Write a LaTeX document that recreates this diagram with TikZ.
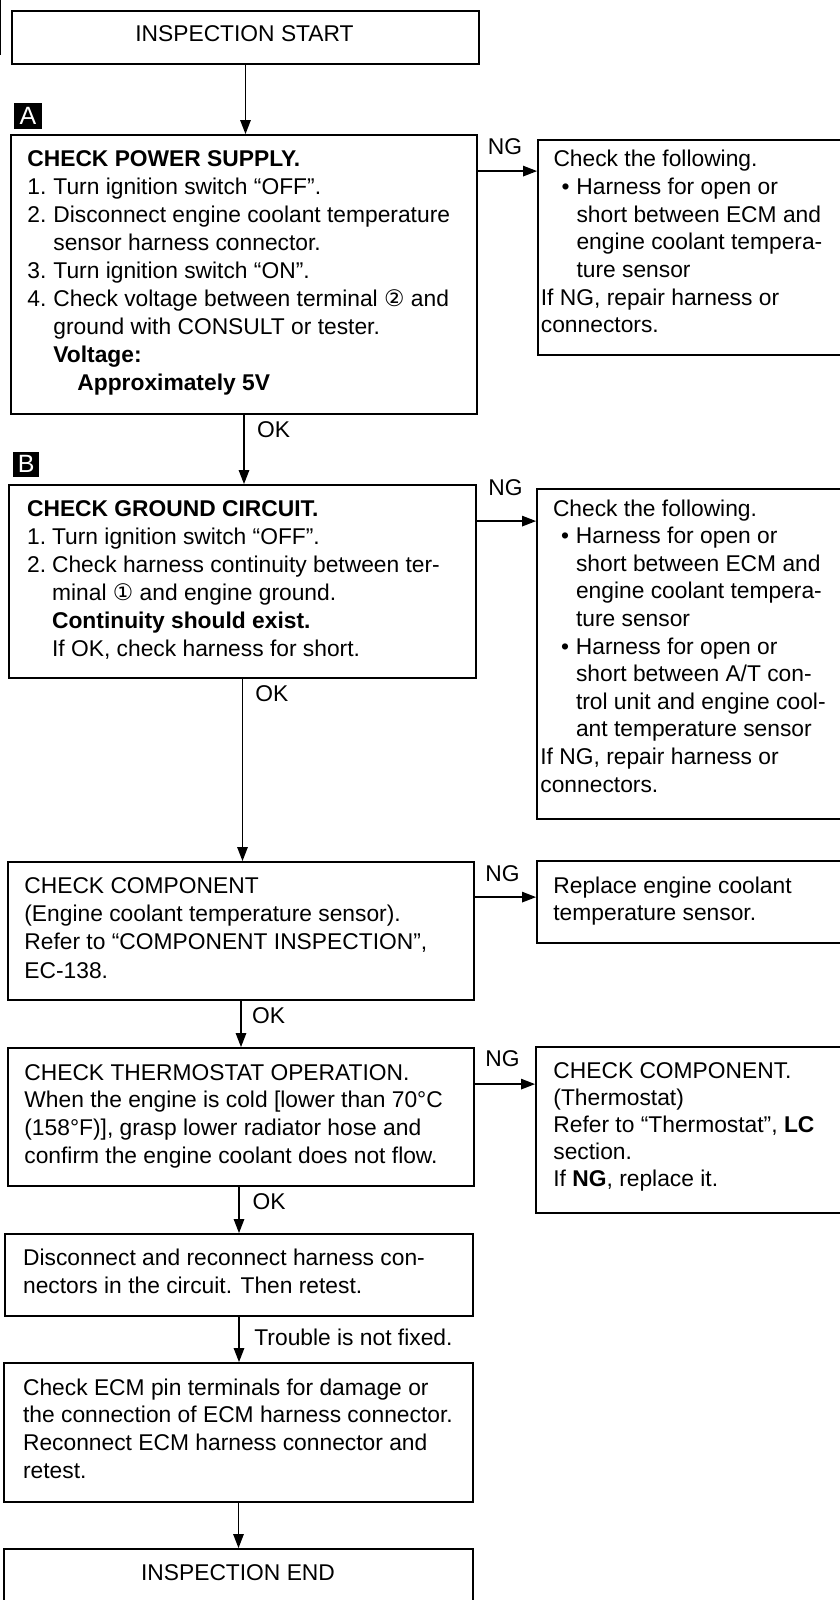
\documentclass[tikz,border=0pt]{standalone}
\usepackage{fontspec}
\setmainfont{Liberation Sans}
\newfontfamily\symfont{DejaVu Sans}
\usetikzlibrary{arrows.meta,calc,fit}

\begin{document}
\begin{tikzpicture}[x=0.5pt,y=-0.5pt,
  box/.style={draw, line width=0.9pt, inner sep=0pt},
  % multi-line texts are placed by the baseline of their last line
  txt/.style={anchor=base west, align=left, inner sep=0pt,
    font=\fontsize{11.4}{#1}\selectfont},
  txt/.default=14,
  ctxt/.style={anchor=base, inner sep=0pt, font=\fontsize{11.4}{14}\selectfont},
  lbl/.style={anchor=base west, inner sep=0pt, font=\fontsize{11.4}{14}\selectfont},
  tag/.style={fill=black, text=white, inner sep=0pt,
    font=\fontsize{12.5}{12.5}\selectfont},
  conn/.style={line width=0.75pt, -{Triangle[length=7pt,width=5.2pt]}}
]
\useasboundingbox (0,0) rectangle (840,1600);
\draw[line width=0.4pt] (0.8,0) -- (0.8,55);

% main column
\node[box, fit={(12,11) (479,64)}] (start) {};
\node[box, fit={(11,135) (477,414)}] (A) {};
\node[box, fit={(9,485) (476,678)}] (B) {};
\node[box, fit={(8,862) (474,1000)}] (C) {};
\node[box, fit={(8,1048) (474,1186)}] (D) {};
\node[box, fit={(5,1234) (473,1316)}] (E) {};
\node[box, fit={(4,1363) (473,1502)}] (F) {};
\node[box, fit={(4,1549) (473,1612)}] (stop) {};

% right column
\node[box, fit={(538,140) (846,355)}] (RA) {};
\node[box, fit={(537,489) (846,819)}] (RB) {};
\node[box, fit={(537,861) (846,943)}] (RC) {};
\node[box, fit={(536,1047) (846,1213)}] (RD) {};

% step tags
\node[tag, minimum width=14pt, minimum height=13.3pt] (tagA) at (28,116) {A};
\node[tag, minimum width=13pt, minimum height=12.5pt] (tagB) at (26.3,464.2) {B};

% texts
\node[ctxt] (startT) at (244.5,41.7) {INSPECTION START};

\node[txt] (AT) at (27,390.7) {\textbf{CHECK POWER SUPPLY.}\\
\makebox[13pt][l]{1.}Turn ignition switch “OFF”.\\
\makebox[13pt][l]{2.}Disconnect engine coolant temperature\\
\hspace*{13pt}sensor harness connector.\\
\makebox[13pt][l]{3.}Turn ignition switch “ON”.\\
\makebox[13pt][l]{4.}Check voltage between terminal {\symfont ②} and\\
\hspace*{13pt}ground with CONSULT or tester.\\
\hspace*{13pt}\textbf{Voltage:}\\
\hspace*{25pt}\textbf{Approximately 5V}};

\node[txt=13.85] (RAT) at (540.5,332.9) {\hspace*{6.3pt}Check the following.\\
\hspace*{10.3pt}\makebox[7.5pt][l]{•}Harness for open or\\
\hspace*{17.8pt}short between ECM and\\
\hspace*{17.8pt}engine coolant tempera-\\
\hspace*{17.8pt}ture sensor\\
If NG, repair harness or\\
connectors.};

\node[txt] (BT) at (26.7,656) {\textbf{CHECK GROUND CIRCUIT.}\\
\makebox[12.5pt][l]{1.}Turn ignition switch “OFF”.\\
\makebox[12.5pt][l]{2.}Check harness continuity between ter-\\
\hspace*{12.5pt}minal {\symfont ①} and engine ground.\\
\hspace*{12.5pt}\textbf{Continuity should exist.}\\
\hspace*{12.5pt}If OK, check harness for short.};

\node[txt=13.8] (RBT) at (540,792) {\hspace*{6.3pt}Check the following.\\
\hspace*{10.3pt}\makebox[7.5pt][l]{•}Harness for open or\\
\hspace*{17.8pt}short between ECM and\\
\hspace*{17.8pt}engine coolant tempera-\\
\hspace*{17.8pt}ture sensor\\
\hspace*{10.3pt}\makebox[7.5pt][l]{•}Harness for open or\\
\hspace*{17.8pt}short between A/T con-\\
\hspace*{17.8pt}trol unit and engine cool-\\
\hspace*{17.8pt}ant temperature sensor\\
If NG, repair harness or\\
connectors.};

\node[txt=14.15] (CT) at (24,978.2) {CHECK COMPONENT\\
(Engine coolant temperature sensor).\\
Refer to “COMPONENT INSPECTION”,\\
EC-138.};

\node[txt=13.4] (RCT) at (553,920.1) {Replace engine coolant\\
temperature sensor.};

\node[txt=13.9] (DT) at (24,1163.4) {CHECK THERMOSTAT OPERATION.\\
When the engine is cold [lower than 70°C\\
(158°F)], grasp lower radiator hose and\\
confirm the engine coolant does not flow.};

\node[txt=13.5] (RDT) at (553,1186.3) {CHECK COMPONENT.\\
(Thermostat)\\
Refer to “Thermostat”, \textbf{LC}\\
section.\\
If \textbf{NG}, replace it.};

\node[txt=14.15] (ET) at (22.7,1293.3) {Disconnect and reconnect harness con-\\
nectors in the circuit. Then retest.};

\node[txt=13.9] (FT) at (22.7,1478.4) {Check ECM pin terminals for damage or\\
the connection of ECM harness connector.\\
Reconnect ECM harness connector and\\
retest.};

\node[ctxt] (stopT) at (238,1580) {INSPECTION END};

% vertical flow
\draw[conn] (start.south) -- (start.south |- A.north);
\draw[conn] (A.south) -- (A.south |- B.north);
\draw[conn] (B.south) -- (B.south |- C.north);
\draw[conn] (C.south) -- (C.south |- D.north);
\draw[conn] (E.north |- D.south) -- (E.north);
\draw[conn] (E.south) -- (E.south |- F.north);
\draw[conn] (F.south) -- (F.south |- stop.north);

\node[lbl] (okA) at (256.7,437.3) {OK};
\node[lbl] (okB) at (255,701.7) {OK};
\node[lbl] (okC) at (251.7,1023.3) {OK};
\node[lbl] (okD) at (252.3,1209.3) {OK};
\node[lbl] (okE) at (254,1345) {Trouble is not fixed.};

% NG branches
\coordinate (ngA) at ($(A.north east)+(0,37)$);
\coordinate (ngB) at ($(B.north east)+(0,37)$);
\coordinate (ngC) at ($(C.north east)+(0,36)$);
\coordinate (ngD) at ($(D.north east)+(0,37)$);
\draw[conn] (ngA) -- (ngA -| RA.west);
\draw[conn] (ngB) -- (ngB -| RB.west);
\draw[conn] (ngC) -- (ngC -| RC.west);
\draw[conn] (ngD) -- (ngD -| RD.west);

\node[lbl] (ngAl) at (487.5,155) {NG};
\node[lbl] (ngBl) at (488,495) {NG};
\node[lbl] (ngCl) at (485,881.7) {NG};
\node[lbl] (ngDl) at (485,1066.7) {NG};
\end{tikzpicture}
\end{document}
